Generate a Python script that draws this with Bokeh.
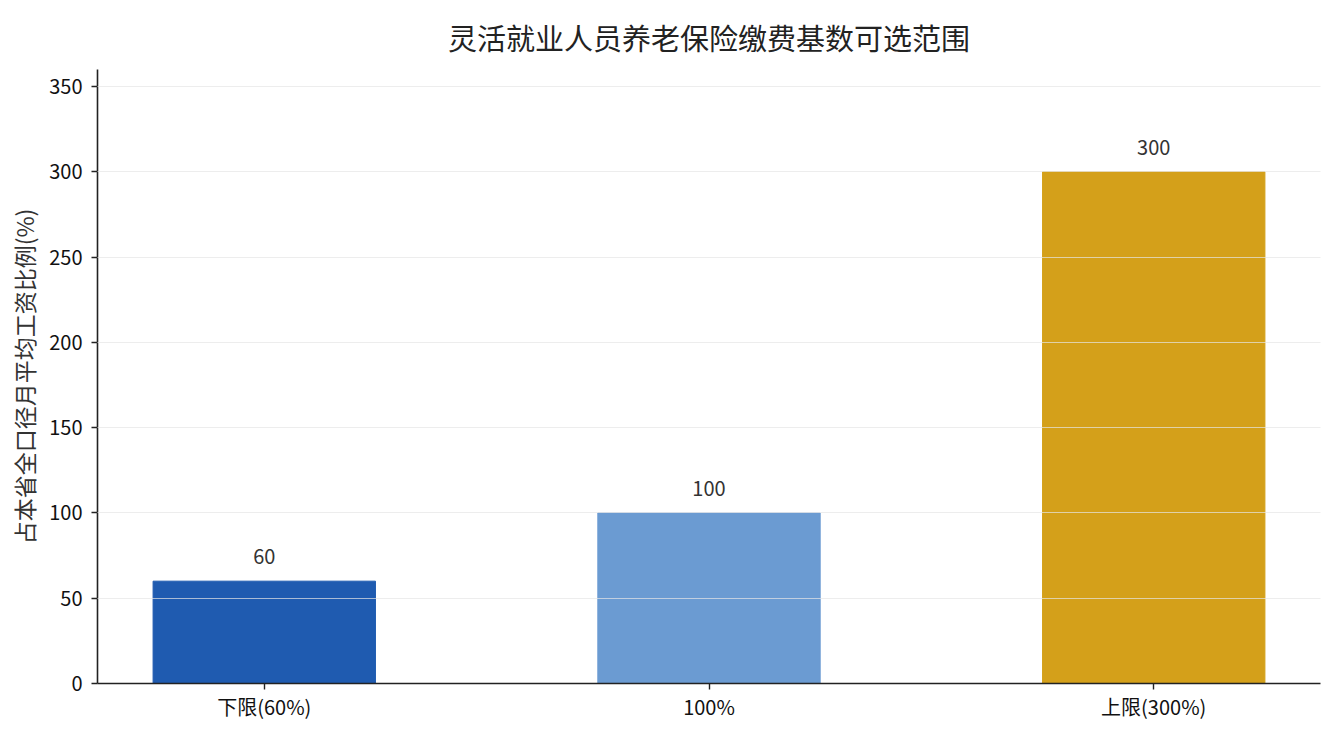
from bokeh.plotting import figure
from bokeh.models import ColumnDataSource, Range1d, FixedTicker, LabelSet
from bokeh.core.properties import value
from bokeh.embed import file_html
from bokeh.resources import INLINE

title_text = "灵活就业人员养老保险缴费基数可选范围"
categories = ["下限(60%)", "100%", "上限(300%)"]
values = [60, 100, 300]
colors = ["#1f5bb0", "#6b9bd2", "#d4a01a"]
y_ticks = [0, 50, 100, 150, 200, 250, 300, 350]

FONT = "Noto Sans CJK SC"
xs = list(range(len(categories)))
src = ColumnDataSource(dict(
    x=xs, top=values, color=colors,
    label=[str(v) for v in values],
))

p = figure(width=1328, height=727, output_backend="svg", toolbar_location=None,
           x_range=Range1d(-0.375, 2.375), y_range=Range1d(0, 360),
           min_border_left=97, min_border_right=8, min_border_top=69, min_border_bottom=44)
p.outline_line_color = None
p.background_fill_color = "white"
p.border_fill_color = "white"

p.vbar(x="x", top="top", width=0.5, color="color", source=src)

labels = LabelSet(x="x", y="top", text="label", source=src, text_align="center",
                  text_baseline="bottom", y_offset=17, text_font_size="20px",
                  text_color="#333333", text_font=value(FONT))
p.add_layout(labels)

p.title.text = title_text
p.title.align = "center"
p.title.text_font = FONT
p.title.text_font_size = "29px"
p.title.text_font_style = "normal"
p.title.text_color = "#222222"
p.title.text_line_height = 1.0
p.title.standoff = 24

p.xaxis.ticker = FixedTicker(ticks=xs)
p.xaxis.major_label_overrides = {i: c for i, c in enumerate(categories)}
p.yaxis.ticker = FixedTicker(ticks=y_ticks)
p.yaxis.axis_label = "占本省全口径月平均工资比例(%)"

for ax in (p.xaxis[0], p.yaxis[0]):
    ax.axis_line_color = "#222222"
    ax.axis_line_width = 1.6
    ax.major_tick_line_color = "#222222"
    ax.major_tick_line_width = 1.4
    ax.major_tick_out = 6
    ax.major_tick_in = 0
    ax.minor_tick_line_color = None
    ax.major_label_text_font = FONT
    ax.major_label_text_font_size = "20px"
    ax.major_label_text_color = "#111111"
    ax.axis_label_text_font = FONT
    ax.axis_label_text_font_size = "23px"
    ax.axis_label_text_font_style = "normal"
    ax.axis_label_text_color = "#333333"
p.xaxis.major_label_standoff = 2
p.yaxis.major_label_standoff = 9

p.xgrid.grid_line_color = None
p.ygrid.grid_line_color = "#e6e6e6"
p.ygrid.grid_line_alpha = 0.7
p.ygrid.grid_line_width = 1
p.ygrid.level = "overlay"

open("out.html", "w").write(file_html(p, INLINE))
